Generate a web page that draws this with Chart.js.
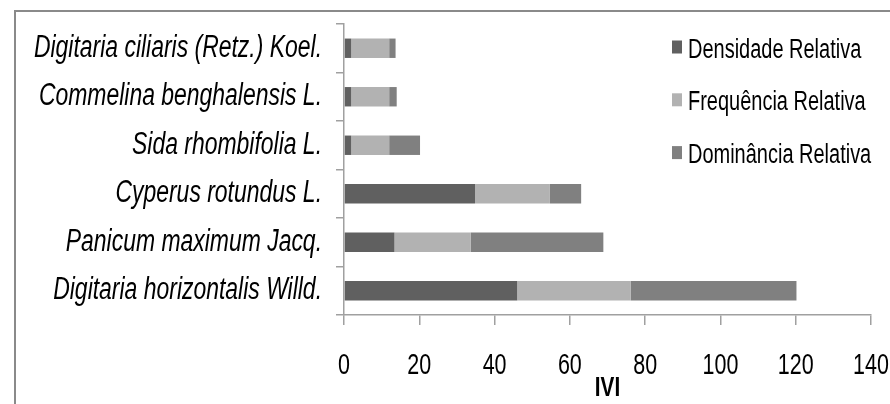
<!DOCTYPE html>
<html>
<head>
<meta charset="utf-8">
<script src="https://cdn.jsdelivr.net/npm/chart.js@4.4.1/dist/chart.umd.min.js"></script>
<style>
html,body{margin:0;padding:0;background:#fff;}
#wrap{position:relative;width:890px;height:404px;}
</style>
</head>
<body>
<div id="wrap"><canvas id="c" width="890" height="404"></canvas></div>
<script>
const categories = [
  'Digitaria ciliaris (Retz.) Koel.',
  'Commelina benghalensis L.',
  'Sida rhombifolia L.',
  'Cyperus rotundus L.',
  'Panicum maximum Jacq.',
  'Digitaria horizontalis Willd.'
];
const densidade = [1.9, 1.9, 1.9, 34.8, 13.4, 46.0];
const frequencia = [10.1, 10.1, 10.1, 19.9, 20.3, 30.2];
const dominancia = [1.7, 2.0, 8.2, 8.3, 35.2, 44.0];
const seriesNames = ['Densidade Relativa', 'Frequência Relativa', 'Dominância Relativa'];
const xTicks = [0, 20, 40, 60, 80, 100, 120, 140];
const axisTitle = 'IVI';

const FONT = "'Liberation Sans', Arial, sans-serif";
const colors = ['#606060', '#b2b2b2', '#808080'];
const NARROW = 0.74;

const canvas = document.getElementById('c');
const cx = canvas.getContext('2d');
// Emulate a narrow (Arial Narrow-like) face by compressing text horizontally.
const origFill = cx.fillText.bind(cx);
const origMeasure = cx.measureText.bind(cx);
cx.fillText = function (text, x, y, maxW) {
  this.save();
  this.translate(x, y);
  this.scale(NARROW, 1);
  if (maxW !== undefined) origFill(text, 0, 0, maxW / NARROW); else origFill(text, 0, 0);
  this.restore();
};
cx.measureText = function (text) {
  const m = origMeasure(text);
  return {
    width: m.width * NARROW,
    actualBoundingBoxAscent: m.actualBoundingBoxAscent,
    actualBoundingBoxDescent: m.actualBoundingBoxDescent,
    actualBoundingBoxLeft: m.actualBoundingBoxLeft * NARROW,
    actualBoundingBoxRight: m.actualBoundingBoxRight * NARROW,
    fontBoundingBoxAscent: m.fontBoundingBoxAscent,
    fontBoundingBoxDescent: m.fontBoundingBoxDescent
  };
};

const framePlugin = {
  id: 'frame',
  beforeDraw(chart) {
    const ctx = chart.ctx;
    ctx.save();
    ctx.fillStyle = '#fff';
    ctx.fillRect(0, 0, chart.width, chart.height);
    ctx.strokeStyle = '#8a8a8a';
    ctx.lineWidth = 2;
    ctx.beginPath();
    ctx.moveTo(15, chart.height + 5);
    ctx.lineTo(15, 11);
    ctx.lineTo(chart.width + 5, 11);
    ctx.stroke();
    ctx.restore();
  }
};

const legendPlugin = {
  id: 'customLegend',
  afterDraw(chart) {
    const ctx = chart.ctx;
    ctx.save();
    chart.data.datasets.forEach((ds, i) => {
      const base = 57.5 + i * 52.8;
      ctx.fillStyle = ds.backgroundColor;
      ctx.fillRect(672, base - 17, 10, 13);
      ctx.fillStyle = '#000';
      ctx.font = "27px " + FONT;
      ctx.textBaseline = 'alphabetic';
      ctx.textAlign = 'left';
      ctx.fillText(ds.label, 688, base);
    });
    ctx.restore();
  }
};

new Chart(canvas, {
  type: 'bar',
  data: {
    labels: categories,
    datasets: [
      { label: seriesNames[0], data: densidade, backgroundColor: colors[0] },
      { label: seriesNames[1], data: frequencia, backgroundColor: colors[1] },
      { label: seriesNames[2], data: dominancia, backgroundColor: colors[2] }
    ]
  },
  options: {
    indexAxis: 'y',
    responsive: false,
    animation: false,
    maintainAspectRatio: false,
    barPercentage: 0.8,
    categoryPercentage: 0.5,
    layout: { padding: { left: 0, right: 19, top: 24, bottom: 0 } },
    plugins: {
      legend: { display: false },
      tooltip: { enabled: false }
    },
    scales: {
      x: {
        stacked: true,
        min: 0, max: 140,
        afterBuildTicks(s) { s.ticks = xTicks.map(v => ({ value: v })); },
        afterFit(s) { s.height = 89; s.paddingLeft = 0; s.paddingRight = 0; },
        grid: { drawOnChartArea: false, drawTicks: true, tickLength: 10, color: '#a0a0a0', lineWidth: 1.5 },
        border: { display: true, color: '#a0a0a0', width: 1.5 },
        ticks: { color: '#000', font: { family: FONT, size: 29 }, padding: 24, maxRotation: 0 },
        title: { display: true, text: axisTitle, color: '#000', font: { family: FONT, size: 28, weight: 'bold', lineHeight: 1.1 }, padding: 0 }
      },
      y: {
        stacked: true,
        afterFit(s) { s.width = 344; s.paddingTop = 0; s.paddingBottom = 0; },
        grid: { drawOnChartArea: false, drawTicks: true, tickLength: 8, color: '#a0a0a0', lineWidth: 1.5, offset: true },
        border: { display: true, color: '#a0a0a0', width: 1.5 },
        ticks: { color: '#000', font: { family: FONT, size: 31, style: 'italic' }, padding: 14 }
      }
    }
  },
  plugins: [framePlugin, legendPlugin]
});
</script>
</body>
</html>
